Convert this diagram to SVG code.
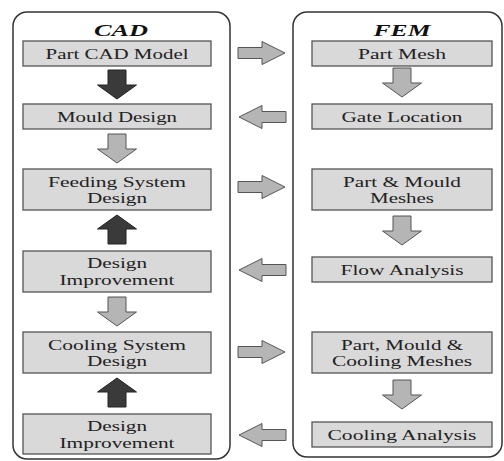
<svg xmlns="http://www.w3.org/2000/svg" width="504" height="461" viewBox="0 0 504 461">
<style>
.cont{fill:#fff;stroke:#333;stroke-width:1.5}
.box{fill:#d9d9d9;stroke:#555;stroke-width:1.3}
.t{font-family:"Liberation Serif","Times New Roman",serif;font-size:15px;fill:#222;text-anchor:middle}
.title{font-family:"Liberation Serif","Times New Roman",serif;font-size:17px;font-weight:bold;font-style:italic;fill:#111;text-anchor:middle}
.ga{fill:#b5b5b5;stroke:#555;stroke-width:1}
.da{fill:#3a3a3a;stroke:#222;stroke-width:1}
</style>
<defs>
<path id="down" d="M-9,0 H9 V15 H19.5 L0,29 L-19.5,15 H-9 Z"/>
<path id="right" d="M0,-5.5 H24 V-11.5 L47,0 L24,11.5 V5.5 H0 Z"/>
</defs>
<rect class="cont" x="13" y="12" width="217" height="447" rx="14"/>
<rect class="cont" x="293" y="12" width="209" height="445" rx="14"/>
<text class="title" x="121" y="36" textLength="54" lengthAdjust="spacingAndGlyphs">CAD</text>
<text class="title" x="402" y="36" textLength="57" lengthAdjust="spacingAndGlyphs">FEM</text>
<g id="c1"><rect class="box" x="23" y="41" width="188" height="25"/><text class="t" x="117" y="59" textLength="143" lengthAdjust="spacingAndGlyphs">Part CAD Model</text></g>
<g id="c2"><rect class="box" x="23" y="104" width="188" height="25"/><text class="t" x="117" y="122" textLength="120" lengthAdjust="spacingAndGlyphs">Mould Design</text></g>
<g id="c3"><rect class="box" x="23" y="169" width="188" height="41"/><text class="t" x="117" y="186.5" textLength="138" lengthAdjust="spacingAndGlyphs">Feeding System</text><text class="t" x="117" y="203" textLength="60" lengthAdjust="spacingAndGlyphs">Design</text></g>
<g id="c4"><rect class="box" x="23" y="251" width="188" height="41"/><text class="t" x="117" y="268" textLength="60" lengthAdjust="spacingAndGlyphs">Design</text><text class="t" x="117" y="285" textLength="115" lengthAdjust="spacingAndGlyphs">Improvement</text></g>
<g id="c5"><rect class="box" x="23" y="332" width="188" height="41"/><text class="t" x="117" y="349.5" textLength="138" lengthAdjust="spacingAndGlyphs">Cooling System</text><text class="t" x="117" y="366" textLength="60" lengthAdjust="spacingAndGlyphs">Design</text></g>
<g id="c6"><rect class="box" x="23" y="414" width="188" height="40"/><text class="t" x="117" y="431" textLength="60" lengthAdjust="spacingAndGlyphs">Design</text><text class="t" x="117" y="448" textLength="115" lengthAdjust="spacingAndGlyphs">Improvement</text></g>
<g id="f1"><rect class="box" x="312" y="41" width="180" height="25"/><text class="t" x="402" y="59" textLength="88" lengthAdjust="spacingAndGlyphs">Part Mesh</text></g>
<g id="f2"><rect class="box" x="312" y="104" width="180" height="25"/><text class="t" x="402" y="122" textLength="121" lengthAdjust="spacingAndGlyphs">Gate Location</text></g>
<g id="f3"><rect class="box" x="312" y="169" width="180" height="41"/><text class="t" x="402" y="186.5" textLength="118" lengthAdjust="spacingAndGlyphs">Part &amp; Mould</text><text class="t" x="402" y="203" textLength="64" lengthAdjust="spacingAndGlyphs">Meshes</text></g>
<g id="f4"><rect class="box" x="312" y="257" width="180" height="25"/><text class="t" x="402" y="275" textLength="123" lengthAdjust="spacingAndGlyphs">Flow Analysis</text></g>
<g id="f5"><rect class="box" x="312" y="332" width="180" height="41"/><text class="t" x="402" y="349.5" textLength="122" lengthAdjust="spacingAndGlyphs">Part, Mould &amp;</text><text class="t" x="402" y="366" textLength="140" lengthAdjust="spacingAndGlyphs">Cooling Meshes</text></g>
<g id="f6"><rect class="box" x="312" y="422" width="180" height="25"/><text class="t" x="402" y="440" textLength="149" lengthAdjust="spacingAndGlyphs">Cooling Analysis</text></g>
<g id="connectors">
<use href="#down" class="da" transform="translate(117,70)"/>
<use href="#down" class="ga" transform="translate(117,134)"/>
<use href="#down" class="da" transform="translate(117,244) scale(1,-1)"/>
<use href="#down" class="ga" transform="translate(117,297)"/>
<use href="#down" class="da" transform="translate(117,407) scale(1,-1)"/>
<use href="#down" class="ga" transform="translate(402,68)"/>
<use href="#down" class="ga" transform="translate(402,216)"/>
<use href="#down" class="ga" transform="translate(402,380)"/>
<use href="#right" class="ga" transform="translate(238,53)"/>
<use href="#right" class="ga" transform="translate(286,117) scale(-1,1)"/>
<use href="#right" class="ga" transform="translate(238,187)"/>
<use href="#right" class="ga" transform="translate(286,270) scale(-1,1)"/>
<use href="#right" class="ga" transform="translate(238,352)"/>
<use href="#right" class="ga" transform="translate(286,435) scale(-1,1)"/>
</g>
</svg>
